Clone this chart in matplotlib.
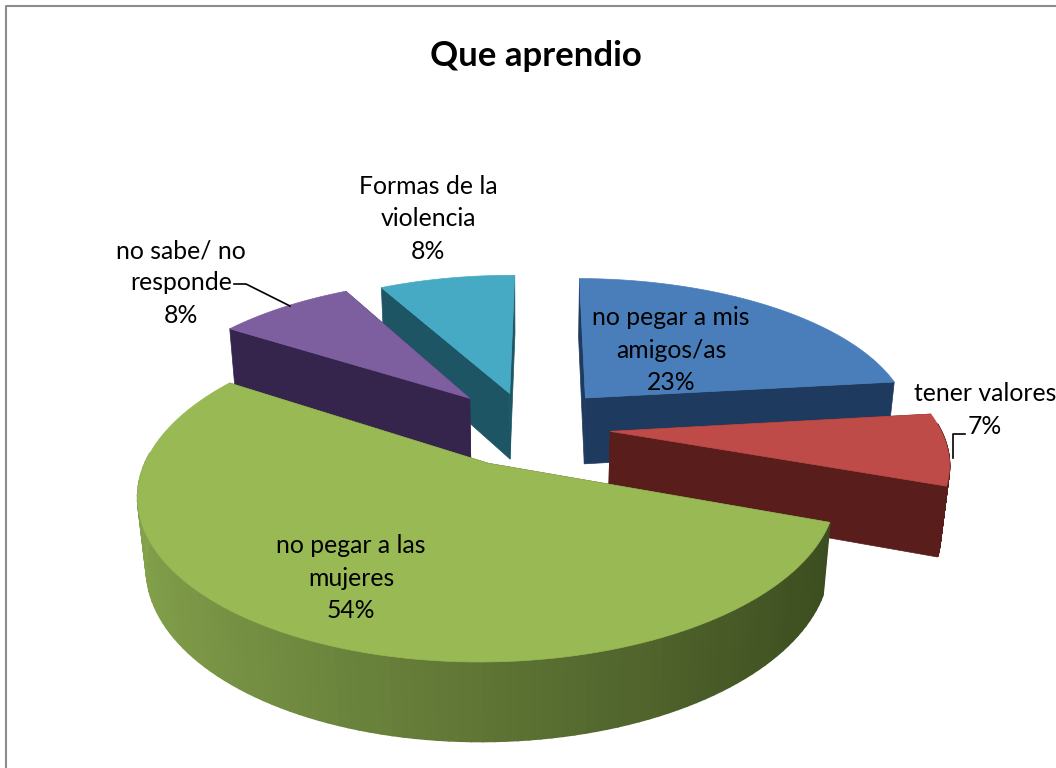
import numpy as np
import matplotlib
matplotlib.use('Agg')
import matplotlib.pyplot as plt
from matplotlib.patches import Polygon

title = 'Que aprendio'
labels = ['no pegar a mis\namigos/as', 'tener valores', 'no pegar a las\nmujeres',
          'no sabe/ no\nresponde', 'Formas de la\nviolencia']
values = [23, 7.4, 53.6, 8, 8]
top_colors = ['#4a7ebb', '#be4b48', '#98b954', '#7d5fa0', '#46aac5']
side_colors = ['#1f3a5f', '#591e1b', '#4a5c28', '#35254d', '#1d5564']
cut_colors = ['#1f3a5f', '#591e1b', '#3f4f22', '#35254d', '#1d5564']

plt.rcParams['font.family'] = ['Lato', 'DejaVu Sans']

# camera for the tilted pie
cx, cy = 528, 427
focal, dist = 1680, 5.1
tilt = np.radians(27)
height = 0.235
rotation = 0.5
explodes = [0.27, 0.25, 0.26, 0.27, 0.24]


def project(x, y, z=0.0):
    w = dist + y * np.cos(tilt) - z * np.sin(tilt)
    v = y * np.sin(tilt) + z * np.cos(tilt)
    return cx + focal * x / w, cy - focal * v / w


def slice_points(a0, a1, off):
    t = np.radians(np.linspace(a0, a1, 120))
    return off[0] + np.sin(t), off[1] + np.cos(t)


fig = plt.figure(figsize=(10.56, 7.68), dpi=100)
ax = fig.add_axes([0, 0, 1, 1])
ax.set_xlim(0, 1056)
ax.set_ylim(768, 0)
ax.axis('off')

# frame of the chart
ax.plot([6, 6, 1056], [768, 6, 6], color='#8c8c8c', lw=1.5)

# angles go clockwise from the top
total = sum(values)
edges = np.cumsum([0] + values) / total * 360 + rotation
mids = (edges[:-1] + edges[1:]) / 2
offsets = [(e * np.sin(np.radians(m)), e * np.cos(np.radians(m))) for e, m in zip(explodes, mids)]

# back slices first
order = sorted(range(len(values)), key=lambda i: -offsets[i][1])
for i in order:
    a0, a1 = edges[i], edges[i + 1]
    off = offsets[i]
    xs, ys = slice_points(a0, a1, off)

    # cut faces, the far one first
    faces = [(xs[0], ys[0]), (xs[-1], ys[-1])]
    faces.sort(key=lambda p: -p[1])
    for fx, fy in faces:
        quad = [project(off[0], off[1]), project(fx, fy),
                project(fx, fy, -height), project(off[0], off[1], -height)]
        ax.add_patch(Polygon(quad, closed=True, fc=cut_colors[i], ec=cut_colors[i], lw=0.5))

    # outer wall in strips, green one shaded from left to right
    for k in range(len(xs) - 1):
        if ys[k] - off[1] > 0.05 and ys[k + 1] - off[1] > 0.05:
            continue
        col = side_colors[i]
        if i == 2:
            f = np.clip((xs[k] - off[0] + 1) / 2, 0, 1)
            c0 = np.array(matplotlib.colors.to_rgb('#84a24c'))
            c1 = np.array(matplotlib.colors.to_rgb('#3a4a1e'))
            col = c0 + (c1 - c0) * f
        quad = [project(xs[k], ys[k]), project(xs[k + 1], ys[k + 1]),
                project(xs[k + 1], ys[k + 1], -height), project(xs[k], ys[k], -height)]
        ax.add_patch(Polygon(quad, closed=True, fc=col, ec=col, lw=1.2))

    top = [project(off[0], off[1])] + [project(a, b) for a, b in zip(xs, ys)]
    ax.add_patch(Polygon(top, closed=True, fc=top_colors[i], ec=top_colors[i], lw=0.5))

# leader lines
ax.plot([234, 246, 290], [284, 284, 306], color='black', lw=1.2)
ax.plot([965, 953, 953], [434, 434, 458], color='black', lw=1.2)

ax.text(536, 56, title, ha='center', va='center', fontsize=25, fontweight='bold', color='black')

fs = 17.8
ls = 1.49
txt = [f'{l}\n{round(v)}%' for l, v in zip(labels, values)]
ax.text(671, 350, txt[0], ha='center', va='center', fontsize=fs, linespacing=ls)
ax.text(985, 410, txt[1], ha='center', va='center', fontsize=fs, linespacing=ls)
ax.text(351, 578, txt[2], ha='center', va='center', fontsize=fs, linespacing=ls)
ax.text(181, 283, txt[3], ha='center', va='center', fontsize=fs, linespacing=ls)
ax.text(428, 219, txt[4], ha='center', va='center', fontsize=fs, linespacing=ls)

fig.savefig('out.png', dpi=100, facecolor='white')
